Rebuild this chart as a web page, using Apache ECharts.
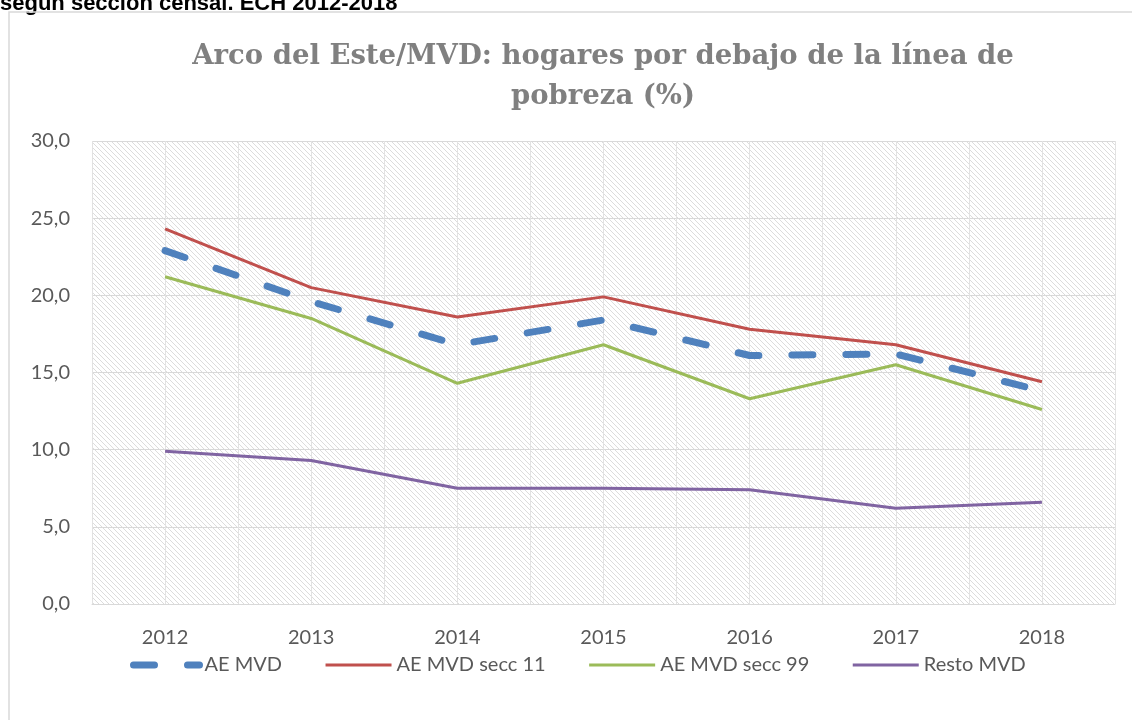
<!DOCTYPE html>
<html>
<head>
<meta charset="utf-8">
<script src="https://cdn.jsdelivr.net/npm/echarts@6/dist/echarts.min.js"></script>
<style>
  html, body { margin: 0; padding: 0; background: #fff; }
  #chart { width: 1132px; height: 720px; }
</style>
</head>
<body>
<div id="chart"></div>
<script>
const years = ['2012', '2013', '2014', '2015', '2016', '2017', '2018']
const aeMvd = [22.9, 19.6, 16.8, 18.4, 16.1, 16.2, 13.8]
const secc11 = [24.3, 20.5, 18.6, 19.9, 17.8, 16.8, 14.4]
const secc99 = [21.2, 18.5, 14.3, 16.8, 13.3, 15.5, 12.6]
const restoMvd = [9.9, 9.3, 7.5, 7.5, 7.4, 6.2, 6.6]
const seriesNames = ['AE MVD', 'AE MVD secc 11', 'AE MVD secc 99', 'Resto MVD']

const labelFont = 'Lato, "Open Sans", sans-serif'
const titleFont = 'bold 27.5px "DejaVu Serif", "Liberation Serif", serif'

// fondo rayado del área de trazado
function hatch() {
  const c = document.createElement('canvas')
  c.width = 5
  c.height = 5
  const g = c.getContext('2d')
  g.fillStyle = '#ffffff'
  g.fillRect(0, 0, 5, 5)
  g.strokeStyle = '#dcdcdc'
  g.lineWidth = 1
  g.beginPath()
  g.moveTo(-1, -1); g.lineTo(6, 6)
  g.moveTo(-1, 4); g.lineTo(1, 6)
  g.moveTo(4, -1); g.lineTo(6, 1)
  g.stroke()
  return c
}

const chart = echarts.init(document.getElementById('chart'))
chart.setOption({
  backgroundColor: '#fff',
  animation: false,
  graphic: [
    {
      type: 'text',
      left: 0,
      top: -7,
      style: {
        text: 'según sección censal. ECH 2012-2018',
        font: 'bold 22px "Liberation Sans", Arial, sans-serif',
        fill: '#000'
      }
    },
    {
      type: 'rect',
      shape: { x: 9, y: 12, width: 1140, height: 720 },
      style: { fill: 'none', stroke: '#d9d9d9', lineWidth: 1.5 },
      silent: true
    },
    {
      type: 'text',
      x: 603,
      y: 57,
      style: {
        text: 'Arco del Este/MVD: hogares por debajo de la línea de',
        font: titleFont,
        fill: '#808080',
        align: 'center',
        verticalAlign: 'middle'
      }
    },
    {
      type: 'text',
      x: 603,
      y: 97,
      style: {
        text: 'pobreza (%)',
        font: titleFont,
        fill: '#808080',
        align: 'center',
        verticalAlign: 'middle'
      }
    }
  ],
  grid: {
    left: 92,
    right: 17,
    top: 141,
    bottom: 116,
    show: true,
    borderWidth: 0,
    backgroundColor: { image: hatch(), repeat: 'repeat' }
  },
  legend: {
    left: 125,
    top: 650,
    itemWidth: 66,
    itemHeight: 8,
    itemGap: 42,
    textStyle: { fontFamily: labelFont, fontSize: 20, color: '#595959' },
    data: seriesNames.map((n, i) => ({
      name: n,
      itemStyle: { opacity: 0 },
      lineStyle: { width: i === 0 ? 7 : 3 }
    }))
  },
  xAxis: [
    {
      type: 'category',
      data: years,
      boundaryGap: true,
      axisTick: { show: false },
      axisLine: { lineStyle: { color: '#d9d9d9', width: 1 } },
      axisLabel: { fontFamily: labelFont, fontSize: 20, color: '#595959', margin: 24 },
      splitLine: { show: false }
    },
    {
      // líneas verticales cada media categoría
      type: 'value',
      min: 0,
      max: 14,
      interval: 1,
      position: 'bottom',
      axisLine: { show: false },
      axisTick: { show: false },
      axisLabel: { show: false },
      splitLine: { show: true, lineStyle: { color: '#e2e2e2', width: 1 } }
    }
  ],
  yAxis: {
    type: 'value',
    min: 0,
    max: 30,
    interval: 5,
    axisLine: { show: false },
    axisTick: { show: false },
    axisLabel: {
      fontFamily: labelFont,
      fontSize: 20,
      color: '#595959',
      margin: 22,
      formatter: v => v.toFixed(1).replace('.', ',')
    },
    splitLine: { lineStyle: { color: '#d9d9d9', width: 1 } }
  },
  series: [
    {
      name: seriesNames[0],
      type: 'line',
      data: aeMvd,
      symbol: 'none',
      z: 5,
      lineStyle: { color: '#4f81bd', width: 7, type: [21, 33], cap: 'round' },
      itemStyle: { color: '#4f81bd' }
    },
    {
      name: seriesNames[1],
      type: 'line',
      data: secc11,
      symbol: 'none',
      lineStyle: { color: '#c0504d', width: 3 },
      itemStyle: { color: '#c0504d' }
    },
    {
      name: seriesNames[2],
      type: 'line',
      data: secc99,
      symbol: 'none',
      lineStyle: { color: '#9bbb59', width: 3 },
      itemStyle: { color: '#9bbb59' }
    },
    {
      name: seriesNames[3],
      type: 'line',
      data: restoMvd,
      symbol: 'none',
      lineStyle: { color: '#8064a2', width: 3 },
      itemStyle: { color: '#8064a2' }
    }
  ]
})
</script>
</body>
</html>
